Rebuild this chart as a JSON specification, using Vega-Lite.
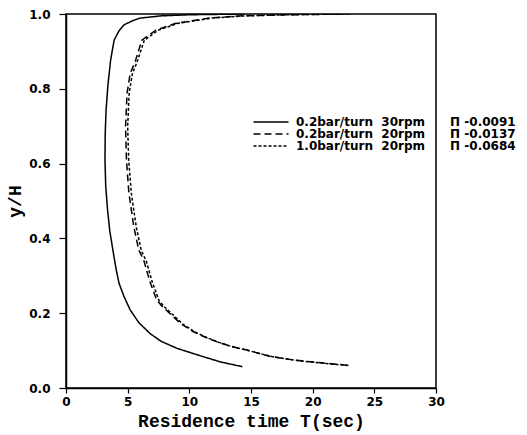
{
  "$schema": "https://vega.github.io/schema/vega-lite/v6.json",
  "width": 370,
  "height": 374,
  "padding": {"left": 6, "top": 8, "right": 0, "bottom": 2},
  "background": "white",
  "config": {
    "view": {"stroke": "black", "strokeWidth": 1.5},
    "axis": {
      "grid": false,
      "domainColor": "black",
      "domainWidth": 1.5,
      "tickColor": "black",
      "tickWidth": 1.2,
      "labelColor": "black",
      "labelFont": "DejaVu Sans",
      "labelFontWeight": "bold",
      "labelFontSize": 12,
      "titleFont": "Liberation Mono",
      "titleFontWeight": "bold",
      "titleFontSize": 18,
      "titleColor": "black"
    }
  },
  "data": {
    "values": [
      {"s": "a", "T": 14.3, "y": 0.057}, {"s": "a", "T": 12.5, "y": 0.07}, {"s": "a", "T": 11.1, "y": 0.084},
      {"s": "a", "T": 9.0, "y": 0.106}, {"s": "a", "T": 7.7, "y": 0.125}, {"s": "a", "T": 6.8, "y": 0.146},
      {"s": "a", "T": 5.9, "y": 0.175}, {"s": "a", "T": 5.2, "y": 0.209}, {"s": "a", "T": 4.7, "y": 0.245},
      {"s": "a", "T": 4.3, "y": 0.28}, {"s": "a", "T": 4.05, "y": 0.32}, {"s": "a", "T": 3.8, "y": 0.369},
      {"s": "a", "T": 3.55, "y": 0.42}, {"s": "a", "T": 3.37, "y": 0.476}, {"s": "a", "T": 3.22, "y": 0.54},
      {"s": "a", "T": 3.16, "y": 0.61}, {"s": "a", "T": 3.18, "y": 0.68}, {"s": "a", "T": 3.25, "y": 0.743},
      {"s": "a", "T": 3.4, "y": 0.81}, {"s": "a", "T": 3.62, "y": 0.877}, {"s": "a", "T": 3.9, "y": 0.93},
      {"s": "a", "T": 4.3, "y": 0.955}, {"s": "a", "T": 4.7, "y": 0.971}, {"s": "a", "T": 5.4, "y": 0.982},
      {"s": "a", "T": 6.0, "y": 0.989}, {"s": "a", "T": 7.7, "y": 0.995}, {"s": "a", "T": 10.0, "y": 0.998},
      {"s": "a", "T": 14.5, "y": 1.0},

      {"s": "b", "T": 22.8, "y": 0.061}, {"s": "b", "T": 20.5, "y": 0.068}, {"s": "b", "T": 18.4, "y": 0.075},
      {"s": "b", "T": 16.5, "y": 0.085}, {"s": "b", "T": 14.6, "y": 0.102}, {"s": "b", "T": 13.3, "y": 0.112},
      {"s": "b", "T": 12.2, "y": 0.124}, {"s": "b", "T": 11.2, "y": 0.137}, {"s": "b", "T": 10.3, "y": 0.151},
      {"s": "b", "T": 9.3, "y": 0.172}, {"s": "b", "T": 8.4, "y": 0.2}, {"s": "b", "T": 7.9, "y": 0.215},
      {"s": "b", "T": 7.35, "y": 0.235}, {"s": "b", "T": 6.8, "y": 0.285}, {"s": "b", "T": 6.3, "y": 0.342},
      {"s": "b", "T": 5.9, "y": 0.369}, {"s": "b", "T": 5.5, "y": 0.431}, {"s": "b", "T": 5.1, "y": 0.521},
      {"s": "b", "T": 4.9, "y": 0.61}, {"s": "b", "T": 4.83, "y": 0.699}, {"s": "b", "T": 4.95, "y": 0.788},
      {"s": "b", "T": 5.2, "y": 0.84}, {"s": "b", "T": 5.65, "y": 0.877}, {"s": "b", "T": 6.15, "y": 0.93},
      {"s": "b", "T": 7.3, "y": 0.957}, {"s": "b", "T": 8.9, "y": 0.975}, {"s": "b", "T": 11.6, "y": 0.989},
      {"s": "b", "T": 14.3, "y": 0.995}, {"s": "b", "T": 18.0, "y": 0.998}, {"s": "b", "T": 22.8, "y": 1.0},

      {"s": "c", "T": 22.9, "y": 0.06}, {"s": "c", "T": 20.6, "y": 0.067}, {"s": "c", "T": 18.6, "y": 0.074},
      {"s": "c", "T": 16.7, "y": 0.084}, {"s": "c", "T": 14.8, "y": 0.1}, {"s": "c", "T": 13.5, "y": 0.11},
      {"s": "c", "T": 12.4, "y": 0.122}, {"s": "c", "T": 11.4, "y": 0.135}, {"s": "c", "T": 10.5, "y": 0.149},
      {"s": "c", "T": 9.5, "y": 0.17}, {"s": "c", "T": 8.6, "y": 0.198}, {"s": "c", "T": 8.1, "y": 0.213},
      {"s": "c", "T": 7.55, "y": 0.233}, {"s": "c", "T": 7.0, "y": 0.283}, {"s": "c", "T": 6.5, "y": 0.34},
      {"s": "c", "T": 6.1, "y": 0.368}, {"s": "c", "T": 5.7, "y": 0.43}, {"s": "c", "T": 5.3, "y": 0.52},
      {"s": "c", "T": 5.08, "y": 0.61}, {"s": "c", "T": 5.0, "y": 0.7}, {"s": "c", "T": 5.12, "y": 0.788},
      {"s": "c", "T": 5.38, "y": 0.84}, {"s": "c", "T": 5.82, "y": 0.877}, {"s": "c", "T": 6.35, "y": 0.93},
      {"s": "c", "T": 7.5, "y": 0.957}, {"s": "c", "T": 9.1, "y": 0.975}, {"s": "c", "T": 11.8, "y": 0.989},
      {"s": "c", "T": 14.5, "y": 0.995}, {"s": "c", "T": 18.2, "y": 0.998}, {"s": "c", "T": 23.0, "y": 1.0}
    ]
  },
  "mark": {"type": "line", "color": "black", "strokeWidth": 1.5, "clip": true},
  "encoding": {
    "x": {
      "field": "T", "type": "quantitative",
      "scale": {"domain": [0, 30], "nice": false},
      "axis": {"values": [0, 5, 10, 15, 20, 25, 30], "title": "Residence time T(sec)", "tickSize": 5, "labelPadding": 3, "titlePadding": 5, "labelFlush": false}
    },
    "y": {
      "field": "y", "type": "quantitative",
      "scale": {"domain": [0, 1], "nice": false},
      "axis": {"values": [0, 0.2, 0.4, 0.6, 0.8, 1.0], "format": ".1f", "title": "y/H", "tickSize": 7, "labelPadding": 9, "titlePadding": 4, "labelFlush": false}
    },
    "order": {"field": "y", "type": "quantitative"},
    "detail": {"field": "s"},
    "strokeDash": {
      "field": "s", "type": "nominal",
      "scale": {"domain": ["a", "b", "c"], "range": [[1, 0], [7, 4], [3, 2]]},
      "legend": {
        "title": null,
        "orient": "none",
        "legendX": 199,
        "legendY": 102,
        "padding": 0,
        "symbolType": "M-3.5,0H3.5",
        "symbolSize": 100,
        "symbolStrokeColor": "black",
        "symbolStrokeWidth": 1.5,
        "labelFont": "DejaVu Sans",
        "labelFontWeight": "bold",
        "labelFontSize": 12,
        "labelColor": "black",
        "labelOffset": 19,
        "labelLimit": 400,
        "rowPadding": 0,
        "labelExpr": "datum.value == 'a' ? '0.2bar/turn\u00a0\u00a030rpm\u00a0\u00a0\u00a0\u00a0\u00a0\u00a0Π\u00a0-0.0091' : datum.value == 'b' ? '0.2bar/turn\u00a0\u00a020rpm\u00a0\u00a0\u00a0\u00a0\u00a0\u00a0Π\u00a0-0.0137' : '1.0bar/turn\u00a0\u00a020rpm\u00a0\u00a0\u00a0\u00a0\u00a0\u00a0Π\u00a0-0.0684'"
      }
    }
  }
}
